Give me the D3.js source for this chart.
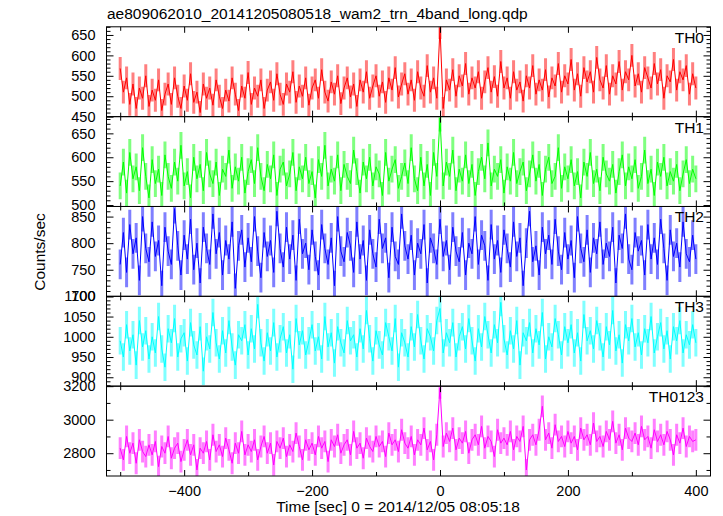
<!DOCTYPE html>
<html><head><meta charset="utf-8">
<script src="https://cdn.jsdelivr.net/npm/d3@7"></script>
<style>body{margin:0;background:#fff}svg{display:block}text{font-family:"Liberation Sans",Arial,Helvetica,sans-serif}</style>
</head><body><div id="chart"></div>
<script>
const titleText = "ae809062010_20141205080518_wam2_trn_4band_long.qdp";
const xLabel = "Time [sec] 0 = 2014/12/05 08:05:18";
const yLabel = "Counts/sec";
const tStart = -500, tEnd = 400;
const bandNames = ["TH0", "TH1", "TH2", "TH3", "TH0123"];
const bandColors = ["#ff0000", "#00ff00", "#0000ff", "#00ffff", "#ff00ff"];
const bandErrors = [28, 28, 28, 34, 65];
const yDomains = [[450, 670], [497, 685], [700, 869], [878, 1100], [2664, 3200]];
const yMajor = [[450, 500, 550, 600, 650], [500, 550, 600, 650], [700, 750, 800, 850], [900, 950, 1000, 1050, 1100], [2800, 3000, 3200]];
const yMinorStep = [10, 10, 10, 10, 100];
const xTickLabels = [-400, -200, 0, 200, 400];
const xMinorTicks = [-500, -300, -100, 100, 300];

const th0 = [
568,510,545,480,530,470,520,495,550,475,
515,490,540,465,505,530,480,545,500,470,
525,490,555,485,510,460,530,495,520,478,
540,500,470,515,488,545,505,465,525,495,
558,480,520,500,540,470,515,535,490,555,
505,480,530,510,560,485,525,500,545,478,
520,540,495,565,510,488,535,505,550,482,
520,545,498,530,475,540,510,560,495,525,
550,500,535,485,545,515,570,498,530,555,
505,540,490,560,520,500,575,510,545,495,
668,470,540,515,565,500,550,525,580,505,
545,520,560,495,535,570,510,548,500,585,
520,545,495,560,515,535,488,550,520,575,
505,540,515,565,498,545,525,580,510,550,
530,590,515,555,500,570,535,560,510,595,
540,520,575,505,550,530,585,515,560,540,
600,525,555,510,570,545,520,580,530,565,
495,550,535,590,515,560,540,575,505,555,
520];
const th1 = [
540,590,525,610,555,580,530,620,560,515,
595,545,575,520,605,560,535,590,550,625,
540,570,515,600,555,585,530,610,565,545,
590,520,575,560,615,535,580,550,600,525,
570,595,545,620,560,530,585,555,605,520,
575,590,540,565,610,530,580,555,600,545,
570,515,595,560,625,540,575,550,605,530,
585,560,545,615,570,525,590,555,600,540,
580,565,520,610,550,575,595,535,560,588,
545,620,555,530,600,540,585,520,610,560,
682,540,590,560,615,530,575,550,605,545,
585,520,570,600,555,630,540,575,560,595,
525,580,550,610,545,570,590,530,565,605,
550,585,520,575,600,545,560,620,535,580,
555,595,540,570,515,590,560,610,545,575,
530,600,565,550,585,525,570,605,540,580,
555,595,535,560,615,545,575,520,590,560,
600,540,570,550,585,530,565,595,545,575,
555];
const th2 = [
760,820,745,835,780,810,730,850,790,765,
840,775,805,720,830,785,760,865,795,740,
815,770,845,750,800,725,830,790,760,855,
780,820,740,805,770,840,715,795,825,755,
810,765,850,785,735,820,775,805,745,860,
790,755,830,770,815,730,845,780,800,750,
825,775,740,835,790,760,810,720,850,785,
765,820,795,745,840,770,805,730,825,780,
755,845,790,810,735,830,775,760,855,795,
770,815,740,800,780,835,725,810,790,760,
845,775,805,750,830,785,765,820,740,800,
780,850,760,815,795,730,835,770,805,745,
825,790,755,840,775,810,720,800,860,765,
795,740,830,780,815,760,845,785,750,820,
770,805,735,850,790,765,825,745,810,780,
840,760,800,775,830,725,815,790,855,770,
750,820,785,805,740,835,770,810,760,845,
790,730,825,775,800,755,840,780,765,815,
770];
const th3 = [
990,950,1030,965,1005,930,1040,975,1015,945,
1000,960,1050,970,925,1020,985,1045,950,995,
1010,940,1035,980,955,1025,915,1000,970,1060,
985,945,1015,960,1040,975,930,1005,990,1030,
955,1020,970,1080,985,940,1010,965,1035,950,
995,1025,960,1005,920,1045,980,1015,955,990,
1030,965,1000,945,1050,975,1010,935,1025,985,
960,1040,990,1005,950,1020,970,1065,995,940,
1015,980,955,1035,1000,965,1045,925,1010,985,
950,1025,975,1055,990,945,1020,1000,965,1040,
1070,960,1010,985,1035,950,1000,1025,970,1045,
990,940,1020,975,1050,1005,960,1030,985,1085,
995,955,1015,970,1040,930,1010,990,1035,960,
1020,980,1060,945,1000,975,1045,1005,955,1025,
985,1030,960,1010,940,1055,990,1015,970,1040,
1000,950,1025,980,1065,965,1005,935,1030,990,
1045,975,1010,955,1020,985,1050,960,1000,1035,
970,1015,945,1025,990,1040,960,1005,980,1030,
985];
const th0123 = [
2830,2760,2900,2800,2860,2740,2880,2810,2780,2850,
2790,2870,2720,2840,2800,2900,2770,2830,2860,2750,
2820,2880,2790,2850,2700,2830,2800,2870,2760,2910,
2810,2850,2780,2890,2820,2740,2860,2800,2930,2790,
2850,2810,2880,2760,2840,2900,2800,2860,2730,2870,
2830,2890,2780,2850,2810,2920,2840,2760,2880,2820,
2860,2790,2900,2830,2870,2750,2880,2840,2910,2800,
2850,2880,2790,2930,2830,2860,2770,2890,2840,2810,
2900,2840,2870,2780,2920,2850,2880,2810,2940,2860,
2830,2900,2790,2880,2850,2950,2820,2870,2760,2910,
3190,2840,2920,2870,2950,2820,2890,2860,2930,2800,
2880,2910,2850,2960,2830,2900,2870,2780,2940,2860,
2890,2850,2930,2820,2900,2870,2960,2700,2880,2910,
2850,2940,3080,2880,2920,2830,2970,2870,2900,2840,
2930,2860,2900,2820,2950,2880,2910,2850,2980,2870,
2900,2840,2930,2880,2990,2860,2910,2820,2950,2890,
2870,2920,2850,2960,2880,2900,2830,2940,2870,2910,
2850,2930,2880,2790,2910,2860,2950,2840,2900,2870,
2880];
const bandValues = [th0, th1, th2, th3, th0123];

const W = 723, H = 516;
const plotLeft = 106.5, plotRight = 710.5, plotTop = 26.8, plotBottom = 476;
const ph = (plotBottom - plotTop) / bandNames.length;
const FONT = '"Liberation Sans",Arial,sans-serif';

const svg = d3.select("#chart").append("svg").attr("width", W).attr("height", H);
const x = d3.scaleLinear().domain([-521.4, 422.9]).range([plotLeft, plotRight]);

svg.append("text").attr("x", 107).attr("y", 19).attr("font-size", 15.5).text(titleText);

bandNames.forEach((name, p) => {
  const y0 = plotTop + p * ph, y1 = y0 + ph;
  const y = d3.scaleLinear().domain(yDomains[p]).range([y1, y0]);
  const vals = bandValues[p];
  const n = vals.length;
  const tOf = i => tStart + (tEnd - tStart) * i / (n - 1);
  const clipId = "clip" + p;
  svg.append("clipPath").attr("id", clipId).append("rect")
    .attr("x", plotLeft).attr("y", y0).attr("width", plotRight - plotLeft).attr("height", ph);
  const g = svg.append("g").attr("clip-path", `url(#${clipId})`);
  const err = bandErrors[p];
  g.selectAll("line.err").data(vals).join("line").attr("class", "err")
    .attr("x1", (d, i) => x(tOf(i))).attr("x2", (d, i) => x(tOf(i)))
    .attr("y1", d => y(d - err)).attr("y2", d => y(d + err))
    .attr("stroke", bandColors[p]).attr("stroke-opacity", 0.5).attr("stroke-width", 3);
  const line = d3.line().x((d, i) => x(tOf(i))).y(d => y(d));
  g.append("path").datum(vals).attr("d", line).attr("fill", "none")
    .attr("stroke", bandColors[p]).attr("stroke-width", 1);

  const minor = d3.range(yDomains[p][0], yDomains[p][1] + 1e-9, 1)
    .filter(v => v % yMinorStep[p] === 0 && !yMajor[p].includes(v));
  const ax = svg.append("g");
  const noDomain = s => s.select(".domain").remove();
  ax.append("g").attr("transform", `translate(${plotLeft},0)`)
    .call(d3.axisLeft(y).tickValues(yMajor[p]).tickSize(-7).tickPadding(11).tickFormat(d3.format("d"))).call(noDomain);
  ax.append("g").attr("transform", `translate(${plotLeft},0)`)
    .call(d3.axisLeft(y).tickValues(minor).tickSize(-4).tickFormat("")).call(noDomain);
  ax.append("g").attr("transform", `translate(${plotRight},0)`)
    .call(d3.axisRight(y).tickValues(yMajor[p]).tickSize(-7).tickFormat("")).call(noDomain);
  ax.append("g").attr("transform", `translate(${plotRight},0)`)
    .call(d3.axisRight(y).tickValues(minor).tickSize(-4).tickFormat("")).call(noDomain);
  const isLast = p === bandNames.length - 1;
  ax.append("g").attr("transform", `translate(0,${y1})`)
    .call(d3.axisBottom(x).tickValues(xTickLabels).tickSize(-6).tickPadding(isLast ? 10 : 0)
      .tickFormat(isLast ? d3.format("d") : "")).call(noDomain);
  ax.append("g").attr("transform", `translate(0,${y1})`)
    .call(d3.axisBottom(x).tickValues(xMinorTicks).tickSize(-4).tickFormat("")).call(noDomain);
  ax.append("g").attr("transform", `translate(0,${y0})`)
    .call(d3.axisTop(x).tickValues(xTickLabels).tickSize(-6).tickFormat("")).call(noDomain);
  ax.append("g").attr("transform", `translate(0,${y0})`)
    .call(d3.axisTop(x).tickValues(xMinorTicks).tickSize(-4).tickFormat("")).call(noDomain);
  ax.selectAll("text").attr("fill", "#000").attr("font-family", FONT).attr("font-size", 14.5);
  ax.selectAll("line").attr("stroke", "#000");

  svg.append("rect").attr("x", plotLeft).attr("y", y0).attr("width", plotRight - plotLeft).attr("height", ph)
    .attr("fill", "none").attr("stroke", "#000").attr("stroke-width", 1);
  svg.append("text").attr("x", 704).attr("y", y0 + 16).attr("text-anchor", "end")
    .attr("font-size", 15.5).text(name);
});

svg.append("text").attr("x", 398).attr("y", 512).attr("text-anchor", "middle")
  .attr("font-size", 15.5).text(xLabel);
svg.append("text").attr("transform", "translate(45,252) rotate(-90)").attr("text-anchor", "middle")
  .attr("font-size", 15.5).text(yLabel);
</script></body></html>
